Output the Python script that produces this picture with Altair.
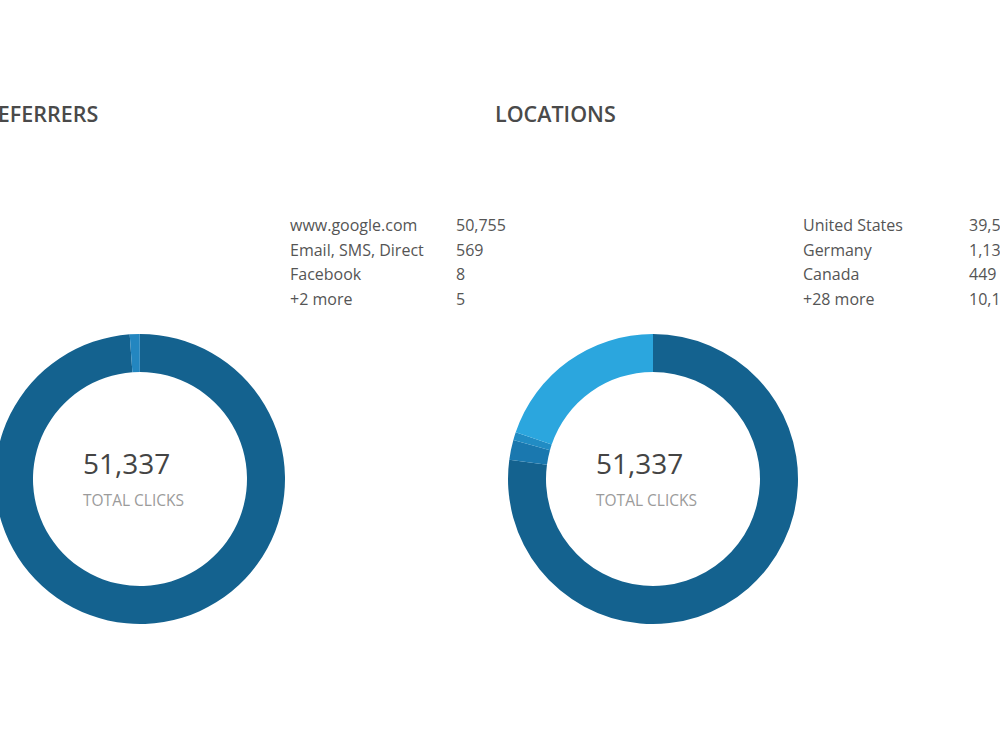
import altair as alt
import pandas as pd

# ---- data ----
ref_labels = ["www.google.com", "Email, SMS, Direct", "Facebook", "+2 more"]
ref_values = [50755, 569, 8, 5]
ref_colors = ["#14628f", "#2386c0", "#1f7fb8", "#1c78ae"]

loc_labels = ["United States", "Germany", "Canada", "+28 more"]
loc_values = [39596, 1137, 449, 10155]
loc_colors = ["#14628f", "#1a78af", "#218cc4", "#2ba6de"]

titles = ["REFERRERS", "LOCATIONS"]
subtitle = "TOTAL CLICKS"

ref_df = pd.DataFrame({"idx": range(4), "label": ref_labels, "value": ref_values, "color": ref_colors})
loc_df = pd.DataFrame({"idx": range(4), "label": loc_labels, "value": loc_values, "color": loc_colors})

FONT = "Open Sans"
OFFSET = 513  # horizontal offset of the second block
CX, CY = 140, 479
R_OUT, R_IN = 145, 107

row_y = alt.Y("idx:O", axis=None, scale=alt.Scale(type="point", range=[226, 300], padding=0))


def block(df, title, dx):
    base = alt.Chart(df)
    one = base.transform_aggregate(total="sum(value)")
    arc = base.mark_arc(radius=R_OUT, radius2=R_IN, strokeWidth=0).encode(
        theta=alt.Theta("value:Q", stack=True),
        order=alt.Order("idx:Q"),
        color=alt.Color("color:N", scale=None),
        x=alt.value(CX + dx),
        y=alt.value(CY),
    )
    total = one.mark_text(
        font=FONT, fontSize=28, color="#444444", align="left", baseline="middle"
    ).encode(
        text=alt.Text("total:Q", format=","),
        x=alt.value(CX - 57 + dx),
        y=alt.value(CY - 13),
    )
    sub = one.mark_text(
        font=FONT, fontSize=15.5, color="#9b9b9b", align="left", baseline="middle"
    ).encode(
        text=alt.value(subtitle),
        x=alt.value(CX - 57 + dx),
        y=alt.value(CY + 22),
    )
    head = one.mark_text(
        font=FONT, fontSize=21.5, fontWeight=600, color="#4a4a4a", align="left", baseline="middle"
    ).encode(
        text=alt.value(title),
        x=alt.value(-16 + dx if dx == 0 else 495),
        y=alt.value(116),
    )
    labels = base.mark_text(
        font=FONT, fontSize=16, color="#555555", align="left", baseline="middle"
    ).encode(text="label:N", x=alt.value(290 + dx), y=row_y)
    values = base.mark_text(
        font=FONT, fontSize=16, color="#555555", align="left", baseline="middle"
    ).encode(text=alt.Text("value:Q", format=","), x=alt.value(456 + dx), y=row_y)
    return [arc, total, sub, head, labels, values]


layers = block(ref_df, titles[0], 0) + block(loc_df, titles[1], OFFSET)

chart = (
    alt.layer(*layers)
    .resolve_scale(theta="independent")
    .properties(width=1000, height=751, autosize=alt.AutoSizeParams(type="none"), padding=0, background="white")
    .configure_view(stroke=None)
)

chart.save("out.html", embed_options={"renderer": "svg", "actions": False})
